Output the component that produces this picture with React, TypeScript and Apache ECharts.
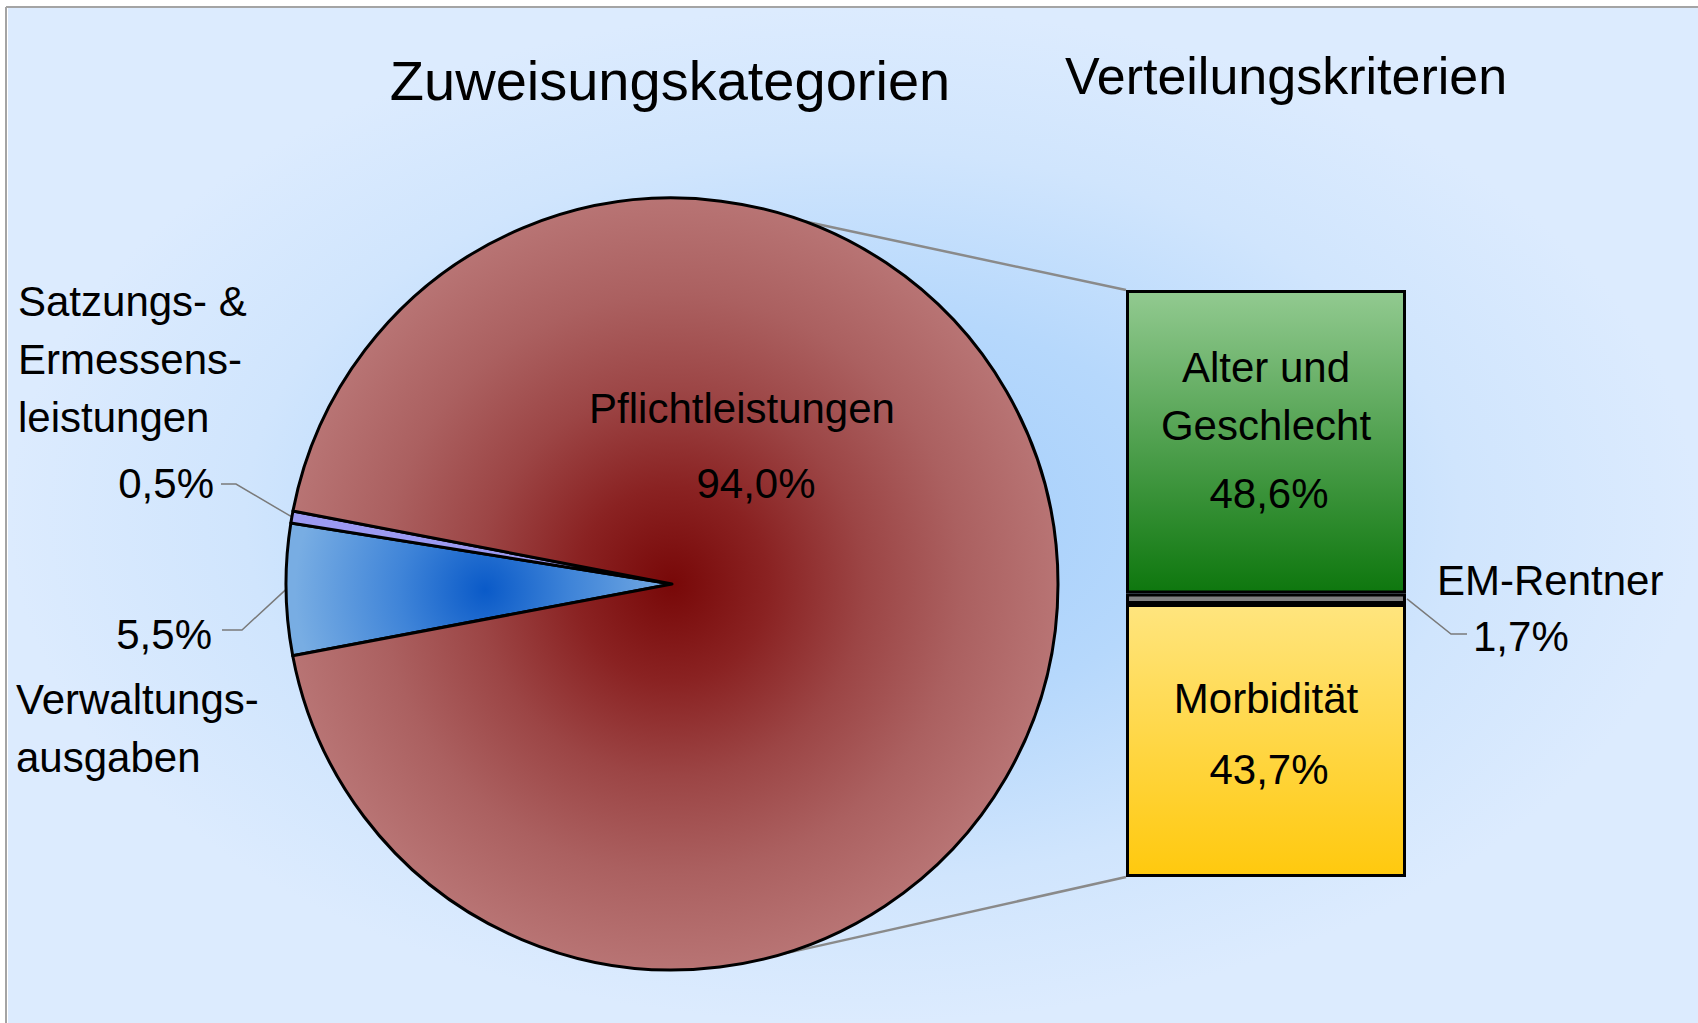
import React, { useEffect, useRef } from 'react';
import * as echarts from 'echarts';

// ---------- data ----------
const titles = ['Zuweisungskategorien', 'Verteilungskriterien'];
const pieNames = ['Verwaltungsausgaben', 'Satzungs- & Ermessensleistungen', 'Pflichtleistungen'];
const pieValues = [5.5, 0.5, 94.0];
const pieLabelLines = [['Verwaltungs-', 'ausgaben'], ['Satzungs- &', 'Ermessens-', 'leistungen'], ['Pflichtleistungen']];
const barNames = ['Morbidität', 'EM-Rentner', 'Alter und Geschlecht'];
const barValues = [43.7, 1.7, 48.6];
const barLabelLines = [['Morbidität'], ['EM-Rentner'], ['Alter und', 'Geschlecht']];

// ---------- layout ----------
const FONT = '"Liberation Sans", Arial, sans-serif';
const CX = 672;
const CY = 584;
const R = 386;
const START = 190.7;
const GRID = { left: 1126, top: 290, width: 280, height: 587 };

const fmt = (v: number) => v.toFixed(1).replace('.', ',') + '%';

const pieTotal = pieValues.reduce((a, b) => a + b, 0);
const barTotal = barValues.reduce((a, b) => a + b, 0);
const midAngle = (i: number) => {
  let before = 0;
  for (let k = 0; k < i; k++) before += pieValues[k];
  const a = START - (360 * (before + pieValues[i] / 2)) / pieTotal;
  return (a * Math.PI) / 180;
};
const edgePoint = (angDeg: number, r = R) => {
  const a = (angDeg * Math.PI) / 180;
  return [CX + r * Math.cos(a), CY - r * Math.sin(a)];
};
// y (pixel) of the middle of the EM-Rentner segment, from the value scale of the grid
const emMidY = GRID.top + GRID.height * (1 - (barValues[0] + barValues[1] / 2) / barTotal);

const App: React.FC = () => {
  const ref = useRef<HTMLDivElement>(null);

  useEffect(() => {
    if (!ref.current) return;
    const chart = echarts.init(ref.current, undefined, { renderer: 'svg' });

    const pieColors = [
      new echarts.graphic.RadialGradient(485, 590, 190, [
        { offset: 0, color: '#0a5ac8' },
        { offset: 0.45, color: '#3f84d8' },
        { offset: 1, color: '#78ade3' },
      ], true),
      '#9c9af2',
      new echarts.graphic.RadialGradient(CX, CY, R, [
        { offset: 0, color: '#780808' },
        { offset: 0.25, color: '#8a2222' },
        { offset: 0.5, color: '#9c4545' },
        { offset: 0.75, color: '#ab6060' },
        { offset: 1, color: '#b87474' },
      ], true),
    ];

    const barColors = [
      new echarts.graphic.LinearGradient(0, 0, 0, 1, [
        { offset: 0, color: '#ffe57e' },
        { offset: 1, color: '#ffc90e' },
      ]),
      '#7f7f7f',
      new echarts.graphic.LinearGradient(0, 0, 0, 1, [
        { offset: 0, color: '#92ca90' },
        { offset: 1, color: '#0e770e' },
      ]),
    ];

    const nameW = 196;
    const pieFormatter = (p: any) => {
      const i = p.dataIndex;
      const names = pieLabelLines[i];
      const pct = fmt(pieValues[i]);
      if (i === 0) return [`{p0|${pct}}`, ...names.map((n) => `{n|${n}}`)].join('\n');
      if (i === 1) return [...names.map((n) => `{n|${n}}`), `{p1|${pct}}`].join('\n');
      return `{c|${names[0]}}\n{c2|${pct}}`;
    };

    const pieLabelPos: any = {
      0: { x: 212, y: 598, align: 'right', verticalAlign: 'top', via: [242, 630], end: [222, 630] },
      1: { x: 214, y: 272, align: 'right', verticalAlign: 'top', via: [236, 484], end: [221, 484] },
      2: { x: 742, y: 446, align: 'center', verticalAlign: 'middle' },
    };

    const barFormatter = (p: any) => {
      const i = p.seriesIndex - 1;
      const lines = barLabelLines[i].map((n) => `{n${i}|${n}}`);
      return [...lines, `{p${i}|${fmt(barValues[i])}}`].join('\n');
    };

    const barLabelOffset = [[0, -3], [0, 0], [0, -6]];
    const barRight = GRID.left + GRID.width;

    const option: any = {
      animation: false,
      backgroundColor: '#ffffff',
      graphic: [
        {
          type: 'group',
          x: 853,
          y: 515.5,
          scaleY: 1015 / 1690,
          z: -100,
          silent: true,
          children: [
            {
              type: 'rect',
              shape: { x: -845, y: -845, width: 1690, height: 1690 },
              style: {
                fill: new echarts.graphic.RadialGradient(0.5, 0.5, 0.5, [
                  { offset: 0, color: '#a2cdfb' },
                  { offset: 0.4, color: '#b6d8fc' },
                  { offset: 0.72, color: '#d0e5fd' },
                  { offset: 1, color: '#dcebfe' },
                ]),
              },
              z: -100,
            },
          ],
        },
        {
          type: 'line',
          z: -50,
          shape: { x1: 6, y1: 7, x2: 1698, y2: 7 },
          style: { stroke: '#a4a4a4', lineWidth: 2 },
        },
        {
          type: 'line',
          z: -50,
          shape: { x1: 6, y1: 7, x2: 6, y2: 1023 },
          style: { stroke: '#a4a4a4', lineWidth: 2 },
        },
        {
          type: 'text',
          x: 670,
          y: 80,
          style: { text: titles[0], font: `56px ${FONT}`, fill: '#000', textAlign: 'center', textVerticalAlign: 'middle' },
        },
        {
          type: 'text',
          x: 1286,
          y: 76,
          style: { text: titles[1], font: `52px ${FONT}`, fill: '#000', textAlign: 'center', textVerticalAlign: 'middle' },
        },
        {
          type: 'line',
          z: 1,
          shape: { x1: edgePoint(70)[0], y1: edgePoint(70)[1], x2: GRID.left, y2: GRID.top },
          style: { stroke: '#8a8a8a', lineWidth: 2.5 },
        },
        {
          type: 'line',
          z: 1,
          shape: { x1: edgePoint(-73.5)[0], y1: edgePoint(-73.5)[1], x2: GRID.left, y2: GRID.top + GRID.height },
          style: { stroke: '#8a8a8a', lineWidth: 2.5 },
        },
        {
          type: 'polyline',
          z: 1,
          shape: { points: [[barRight + 1, emMidY], [1451, 634], [1467, 634]] },
          style: { stroke: '#7a7a7a', lineWidth: 1.5, fill: 'none' },
        },
      ],
      grid: { ...GRID, containLabel: false },
      xAxis: { type: 'category', data: ['Pflichtleistungen'], show: false },
      yAxis: { type: 'value', min: 0, max: barTotal, show: false },
      series: [
        {
          type: 'pie',
          silent: true,
          center: [CX, CY],
          radius: R,
          startAngle: START,
          clockwise: true,
          avoidLabelOverlap: false,
          itemStyle: { borderColor: '#000', borderWidth: 3 },
          label: {
            show: true,
            position: 'outside',
            formatter: pieFormatter,
            fontFamily: FONT,
            color: '#000',
            rich: {
              n: { width: nameW, align: 'left', fontSize: 42, lineHeight: 58, fontFamily: FONT, color: '#000' },
              p0: { width: nameW, align: 'right', fontSize: 42, lineHeight: 72, fontFamily: FONT, color: '#000' },
              p1: { width: nameW, align: 'right', fontSize: 42, lineHeight: 74, fontFamily: FONT, color: '#000' },
              c: { fontSize: 42, lineHeight: 75, fontFamily: FONT, color: '#000' },
              c2: { fontSize: 42, lineHeight: 75, fontFamily: FONT, color: '#000', padding: [0, 0, 0, 28] },
            },
          },
          labelLine: { show: true, length: 20, length2: 15, lineStyle: { color: '#7a7a7a', width: 1.5 } },
          labelLayout: (p: any) => {
            const pos = pieLabelPos[p.dataIndex];
            const out: any = { x: pos.x, y: pos.y, align: pos.align, verticalAlign: pos.verticalAlign };
            if (pos.via) {
              const a = midAngle(p.dataIndex);
              out.labelLinePoints = [[CX + R * Math.cos(a), CY - R * Math.sin(a)], pos.via, pos.end];
            }
            return out;
          },
          data: pieValues.map((v, i) => ({
            name: pieNames[i],
            value: v,
            itemStyle: { color: pieColors[i] },
            labelLine: { show: i !== 2 },
          })),
        },
        ...barValues.map((v, i) => ({
          type: 'bar',
          name: barNames[i],
          stack: 'v',
          barWidth: '100%',
          silent: true,
          data: [v],
          itemStyle: { color: barColors[i], borderColor: '#000', borderWidth: 3 },
          label: {
            show: true,
            position: i === 1 ? 'right' : 'inside',
            offset: barLabelOffset[i],
            formatter: barFormatter,
            fontFamily: FONT,
            color: '#000',
            rich: {
              [`n${i}`]: {
                fontSize: 42,
                lineHeight: i === 0 ? 64 : i === 1 ? 56 : 58,
                fontFamily: FONT,
                color: '#000',
                align: i === 1 ? 'left' : 'center',
              },
              [`p${i}`]: {
                fontSize: 42,
                lineHeight: i === 1 ? 56 : 78,
                fontFamily: FONT,
                color: '#000',
                align: i === 1 ? 'left' : 'center',
                padding: i === 1 ? [0, 0, 0, 36] : [0, 0, 0, 6],
              },
            },
          },
          labelLine: { show: false },
          labelLayout:
            i === 1
              ? () => ({ x: 1437, y: 608, align: 'left', verticalAlign: 'middle' })
              : undefined,
        })),
      ],
    };

    chart.setOption(option);
    return () => chart.dispose();
  }, []);

  return (
    <div
      ref={ref}
      style={{ position: 'absolute', left: 0, top: 0, width: 1698, height: 1023 }}
    />
  );
};

export default App;
